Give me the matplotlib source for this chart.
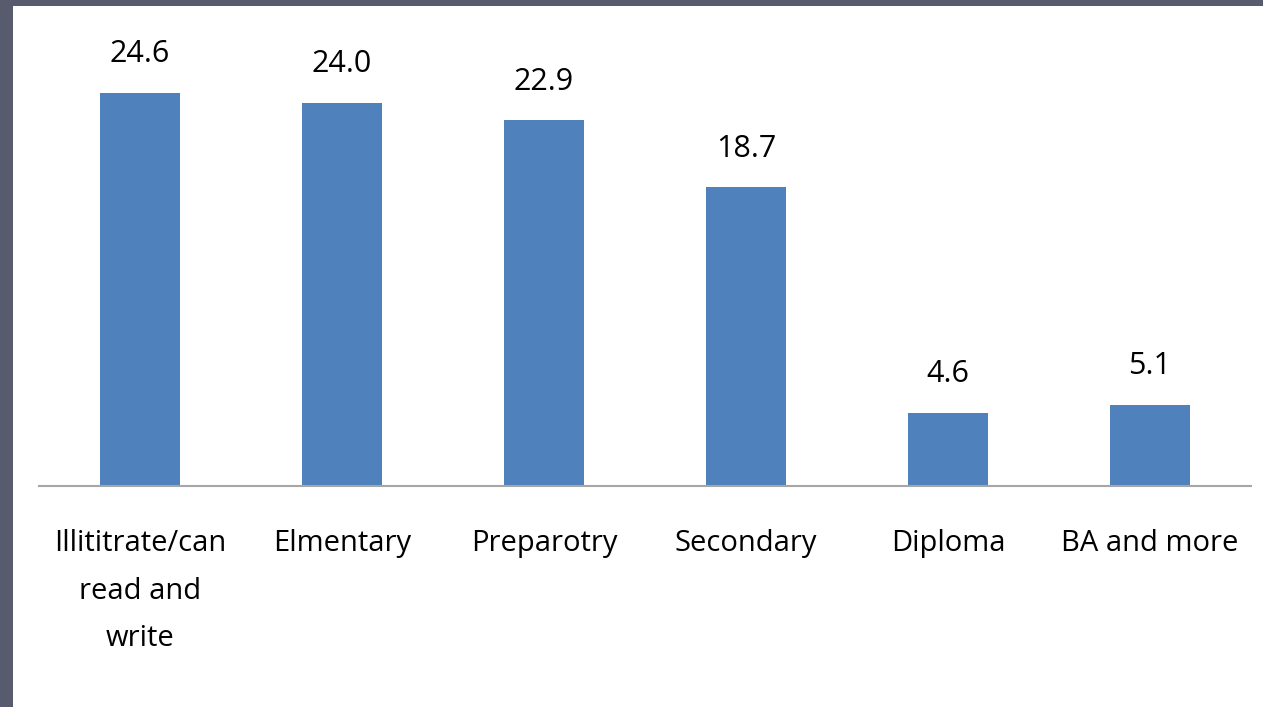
import matplotlib
matplotlib.use("Agg")
import matplotlib.pyplot as plt
from matplotlib.patches import Rectangle

categories = ["Illititrate/can\nread and\nwrite", "Elmentary", "Preparotry",
              "Secondary", "Diploma", "BA and more"]
values = [24.6, 24.0, 22.9, 18.7, 4.6, 5.1]

W, H = 1263, 707
fig = plt.figure(figsize=(W / 100, H / 100), dpi=100)
fig.patch.set_facecolor("white")

# dark frame strips along the left and top edges
frame = "#585b6d"
fig.patches.append(Rectangle((0, 0), 13 / W, 1, transform=fig.transFigure,
                             facecolor=frame, edgecolor="none", zorder=0))
fig.patches.append(Rectangle((0, 1 - 6 / H), 1, 6 / H, transform=fig.transFigure,
                             facecolor=frame, edgecolor="none", zorder=0))

left, right, base, top = 39, 1251, 486, 6
ax = fig.add_axes([left / W, 1 - base / H, (right - left) / W, (base - top) / H])
ax.set_facecolor("none")

font = ["Open Sans", "DejaVu Sans"]
x = range(len(categories))
bars = ax.bar(x, values, width=0.40, color="#4f81bd", zorder=2)
ax.set_xlim(-0.5, len(categories) - 0.5)
ax.set_ylim(0, 30.05)

for xi, v in zip(x, values):
    ax.annotate(f"{v:.1f}", (xi, v), xytext=(0, 17), textcoords="offset points",
                ha="center", va="bottom", fontsize=22, family=font, color="black")

ax.set_xticks(list(x))
ax.set_xticklabels(categories, fontsize=21, family=font, linespacing=1.85,
                   multialignment="center", va="top")
ax.tick_params(axis="x", length=0, pad=31)
ax.set_yticks([])
for s in ["left", "right", "top"]:
    ax.spines[s].set_visible(False)
ax.spines["bottom"].set_color("#a6a6a6")
ax.spines["bottom"].set_linewidth(1.5)

fig.savefig("out.png", dpi=100, facecolor=fig.get_facecolor())
